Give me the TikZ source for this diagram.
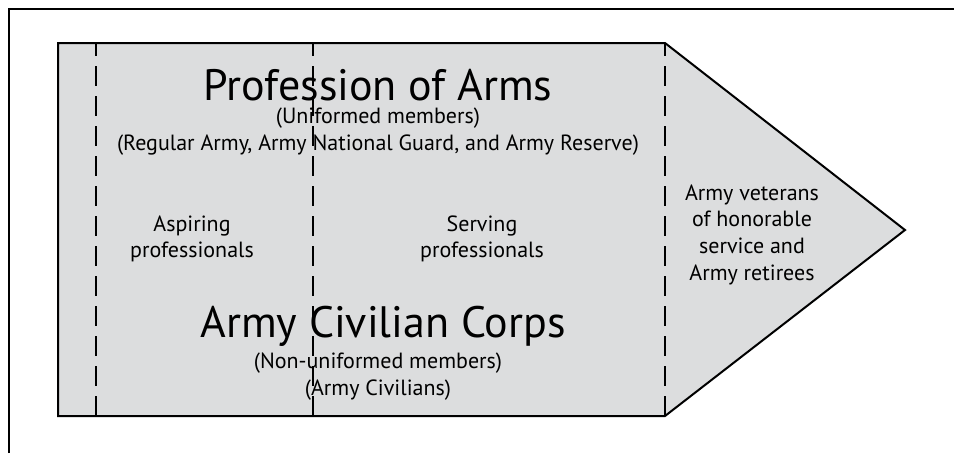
\documentclass[tikz,border=0pt]{standalone}
\usepackage{fontspec}
\setmainfont{PT Sans}
\definecolor{shapefill}{HTML}{DCDDDE}
\begin{document}
\begin{tikzpicture}[x=1pt,y=-1pt,
  frame/.style={line width=2pt,black},
  outline/.style={line width=2pt,black,fill=shapefill},
  divider/.style={line width=2pt,black,dash pattern=on 20pt off 10pt,dash phase=7pt},
  big/.style={inner sep=0pt,anchor=base,font=\fontsize{44}{52}\selectfont},
  small/.style={inner sep=0pt,anchor=base,font=\fontsize{22}{27}\selectfont},
]
\useasboundingbox (0,0) rectangle (954,453);
% outer frame (top and left sides only)
\draw[frame] (9,453) -- (9,9) -- (954,9);
% pentagon
\draw[outline] (58,43) -- (665,43) -- (905,230) -- (665,416) -- (58,416) -- cycle;
% dashed dividers
\coordinate (d1t) at (96,43);  \coordinate (d1b) at (96,416);
\coordinate (d2t) at (313,43); \coordinate (d2b) at (313,416);
\coordinate (d3t) at (665,43); \coordinate (d3b) at (665,416);
\draw[divider] (d1t) -- (d1b);
\draw[divider] (d2t) -- (d2b);
\draw[divider] (d3t) -- (d3b);
% texts
\node[big]   (poa)  at (378,100) {Profession of Arms};
\node[small] (poa1) at (378,123) {(Uniformed members)};
\node[small] (poa2) at (378,150) {(Regular Army, Army National Guard, and Army Reserve)};
\node[small] (asp1) at (192,231) {Aspiring};
\node[small] (asp2) at (192,257) {professionals};
\node[small] (ser1) at (482,231) {Serving};
\node[small] (ser2) at (482,257) {professionals};
\node[small] (vet1) at (752,200) {Army veterans};
\node[small] (vet2) at (752,226) {of honorable};
\node[small] (vet3) at (752,253) {service and};
\node[small] (vet4) at (752,280) {Army retirees};
\node[big]   (acc)  at (383,337) {Army Civilian Corps};
\node[small] (acc1) at (378,368) {(Non-uniformed members)};
\node[small] (acc2) at (378,395) {(Army Civilians)};
\end{tikzpicture}
\end{document}
